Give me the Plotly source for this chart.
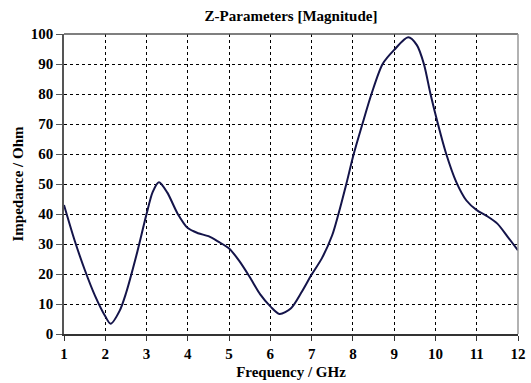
import plotly.graph_objects as go

freq = [1.0, 1.25, 1.5, 1.75, 2.0, 2.13, 2.35, 2.5, 2.75, 3.0, 3.15, 3.3, 3.5, 3.75, 4.0, 4.25, 4.5, 4.75, 5.0,
        5.25, 5.5, 5.75, 6.0, 6.22, 6.5, 6.75, 7.0, 7.25, 7.5, 7.65, 7.84, 8.02, 8.23, 8.45, 8.72, 9.0, 9.34, 9.55,
        9.72, 9.88, 10.06, 10.25, 10.5, 10.75, 11.0, 11.25, 11.5, 11.75, 12.0]
impedance = [43.0, 31.5, 21.5, 12.8, 5.9, 3.4, 7.8, 13.5, 26.0, 40.0, 47.4, 50.6, 47.2, 40.2, 35.3, 33.6, 32.6, 30.7, 28.5,
             24.3, 19.0, 13.3, 9.2, 6.7, 8.6, 13.8, 19.8, 25.3, 33.0, 40.0, 50.0, 60.0, 70.0, 80.0, 90.0, 94.7, 98.9, 96.3,
             90.0, 80.0, 70.0, 60.5, 50.8, 44.5, 41.3, 39.3, 36.8, 32.4, 27.9]

title_text = "Z-Parameters [Magnitude]"
x_title = "Frequency / GHz"
y_title = "Impedance / Ohm"

font_family = "Liberation Serif"

fig = go.Figure()
fig.add_trace(go.Scatter(
    x=freq, y=impedance, mode="lines",
    line=dict(color="#14144a", width=2, shape="spline", smoothing=0.8),
    hoverinfo="skip", showlegend=False,
))

fig.update_layout(
    width=531, height=383,
    margin=dict(l=64, r=5, t=34, b=47),
    paper_bgcolor="white", plot_bgcolor="white",
    title=dict(text="<b>" + title_text + "</b>", x=0.5, xref="paper", xanchor="center",
               y=0.958, yanchor="middle",
               font=dict(family=font_family, size=15, color="black")),
    font=dict(family=font_family, color="black"),
)

fig.update_xaxes(
    range=[1, 12], tickmode="array", tickvals=list(range(1, 13)),
    ticktext=["<b>%d</b>" % v for v in range(1, 13)],
    tickfont=dict(family=font_family, size=15, color="black"),
    ticklabeloverflow="allow",
    showgrid=True, gridcolor="black", griddash="dot", gridwidth=1,
    showline=True, linecolor="#333333", linewidth=1.5, mirror=False,
    ticks="outside", ticklen=5, tickcolor="#333333",
    zeroline=False,
    title=dict(text="<b>" + x_title + "</b>", font=dict(family=font_family, size=15, color="black"), standoff=6),
)
fig.update_yaxes(
    range=[0, 100], tickmode="array", tickvals=list(range(0, 101, 10)),
    ticktext=["<b>%d</b>" % v for v in range(0, 101, 10)],
    tickfont=dict(family=font_family, size=15, color="black"),
    showgrid=True, gridcolor="black", griddash="dot", gridwidth=1,
    showline=True, linecolor="#555555", linewidth=1.5,
    ticks="outside", ticklen=6, tickcolor="#555555",
    zeroline=False,
    title=dict(text="<b>" + y_title + "</b>", font=dict(family=font_family, size=15, color="black"), standoff=4),
)

# top and right border
fig.add_shape(type="line", xref="paper", yref="paper", x0=0, x1=1, y0=1, y1=1,
              line=dict(color="#555555", width=1.5))
fig.add_shape(type="line", xref="paper", yref="paper", x0=1, x1=1, y0=0, y1=1,
              line=dict(color="#999999", width=1.5))

fig.write_html("out.html")
